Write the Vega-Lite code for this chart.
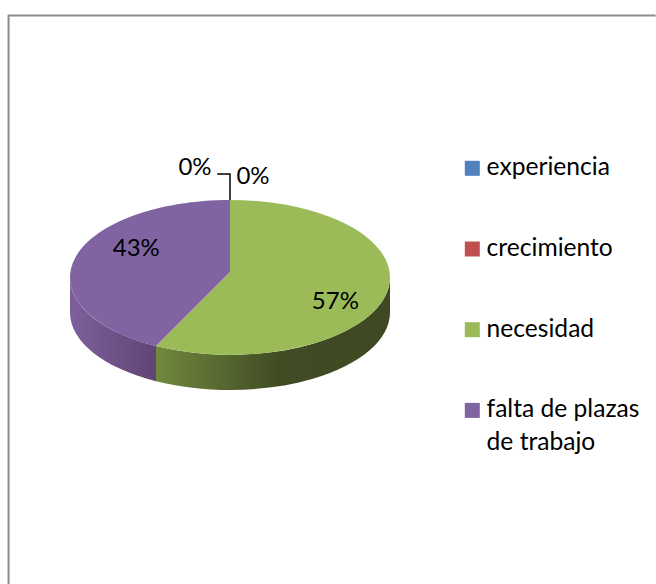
{
  "$schema": "https://vega.github.io/schema/vega-lite/v6.json",
  "width": 460,
  "height": 544,
  "autosize": "none",
  "padding": {"left": 0, "top": 0, "right": 196, "bottom": 40},
  "background": "white",
  "config": {"view": {"stroke": null}, "font": "Lato", "style": {"guide-label": {"lineHeight": 33}}},
  "data": {"values": [
    {"categoria": "experiencia", "porcentaje": 0, "etiqueta": "0%"},
    {"categoria": "crecimiento", "porcentaje": 0, "etiqueta": "0%"},
    {"categoria": "necesidad", "porcentaje": 57, "etiqueta": "57%"},
    {"categoria": "falta de plazas de trabajo", "porcentaje": 43, "etiqueta": "43%"}
  ]},
  "layer": [
    {
      "transform": [{"filter": "datum.categoria == 'experiencia'"}],
      "mark": {"type": "point", "shape": "M-1.384,1.95 L-1.384,-1.603 L2.66,-1.603", "size": 102400, "filled": false, "stroke": "#8c8c8c", "strokeWidth": 2, "opacity": 1}
    },
    {
      "transform": [{"filter": "datum.categoria == 'necesidad'"}],
      "mark": {"type": "point", "shape": "M1,0.034 A1,0.484 0 0,1 -0.4625,0.4631 L-0.4625,0.6821 A1,0.484 0 0,0 1,0.253 Z", "size": 102400, "filled": true, "opacity": 1, "strokeWidth": 0,
        "fill": {"gradient": "linear", "x1": 0, "x2": 1, "y1": 0, "y2": 0, "stops": [{"offset": 0, "color": "#70893d"}, {"offset": 0.52, "color": "#414c24"}, {"offset": 1, "color": "#3e4923"}]}}
    },
    {
      "transform": [{"filter": "datum.categoria == 'falta de plazas de trabajo'"}],
      "mark": {"type": "point", "shape": "M-0.4625,0.4631 A1,0.484 0 0,1 -1,0.034 L-1,0.253 A1,0.484 0 0,0 -0.4625,0.6821 Z", "size": 102400, "filled": true, "opacity": 1, "strokeWidth": 0,
        "fill": {"gradient": "linear", "x1": 0, "x2": 1, "y1": 0, "y2": 0, "stops": [{"offset": 0, "color": "#7c609c"}, {"offset": 1, "color": "#5f4574"}]}}
    },
    {
      "transform": [{"filter": "datum.categoria == 'necesidad'"}],
      "mark": {"type": "point", "shape": "M0,0 L0,-0.45 A1,0.484 0 1,1 -0.4625,0.4631 Z", "size": 102400, "filled": true, "opacity": 1, "strokeWidth": 0, "fill": "#9BBB59"}
    },
    {
      "transform": [{"filter": "datum.categoria == 'falta de plazas de trabajo'"}],
      "mark": {"type": "point", "shape": "M0,0 L-0.4625,0.4631 A1,0.484 0 0,1 0,-0.45 Z", "size": 102400, "filled": true, "opacity": 1, "strokeWidth": 0, "fill": "#8064A2"}
    },
    {
      "mark": {"type": "point", "size": 0, "filled": true, "shape": "square", "opacity": 1, "strokeWidth": 0},
      "encoding": {
        "color": {"field": "categoria", "type": "nominal",
          "scale": {"domain": ["experiencia", "crecimiento", "necesidad", "falta de plazas de trabajo"], "range": ["#4F81BD", "#C0504D", "#9BBB59", "#8064A2"]},
          "legend": {"title": null, "orient": "none", "legendX": 460, "legendY": 156, "symbolType": "square", "symbolSize": 225, "symbolOpacity": 1, "symbolStrokeWidth": 0, "labelFontSize": 24.6, "labelFont": "Lato", "labelColor": "#000000", "labelOffset": 2, "labelLimit": 300, "rowPadding": 55.7,
            "labelExpr": "datum.label == 'falta de plazas de trabajo' ? ['falta de plazas', 'de trabajo'] : datum.label"}
        }
      }
    },
    {
      "transform": [{"filter": "datum.categoria == 'experiencia'"}],
      "mark": {"type": "point", "shape": "M0,-0.45 L0,-0.6125 L-0.08,-0.6125", "size": 102400, "filled": false, "stroke": "#000000", "strokeWidth": 1.5, "opacity": 1}
    },
    {
      "transform": [{"filter": "datum.porcentaje > 0"}],
      "mark": {"type": "text", "fontSize": 24, "font": "Lato", "color": "#000000", "dy": 1.5, "radius": 109},
      "encoding": {
        "theta": {"field": "porcentaje", "type": "quantitative", "stack": true, "scale": {"range": [0.04, 6.3232]}},
        "order": {"field": "porcentaje", "sort": "descending"},
        "text": {"condition": {"test": "datum.categoria == 'necesidad'", "field": "etiqueta", "type": "nominal"}, "value": ""}
      }
    },
    {
      "transform": [{"filter": "datum.porcentaje > 0"}],
      "mark": {"type": "text", "fontSize": 24, "font": "Lato", "color": "#000000", "dy": 1.5, "radius": 97},
      "encoding": {
        "theta": {"field": "porcentaje", "type": "quantitative", "stack": true, "scale": {"range": [0.04, 6.3232]}},
        "order": {"field": "porcentaje", "sort": "descending"},
        "text": {"condition": {"test": "datum.categoria != 'necesidad'", "field": "etiqueta", "type": "nominal"}, "value": ""}
      }
    },
    {
      "transform": [{"filter": "datum.categoria == 'experiencia'"}],
      "mark": {"type": "text", "fontSize": 24, "font": "Lato", "color": "#000000", "dx": -35, "dy": -104},
      "encoding": {"text": {"field": "etiqueta", "type": "nominal"}}
    },
    {
      "transform": [{"filter": "datum.categoria == 'crecimiento'"}],
      "mark": {"type": "text", "fontSize": 24, "font": "Lato", "color": "#000000", "dx": 23, "dy": -95},
      "encoding": {"text": {"field": "etiqueta", "type": "nominal"}}
    }
  ]
}
